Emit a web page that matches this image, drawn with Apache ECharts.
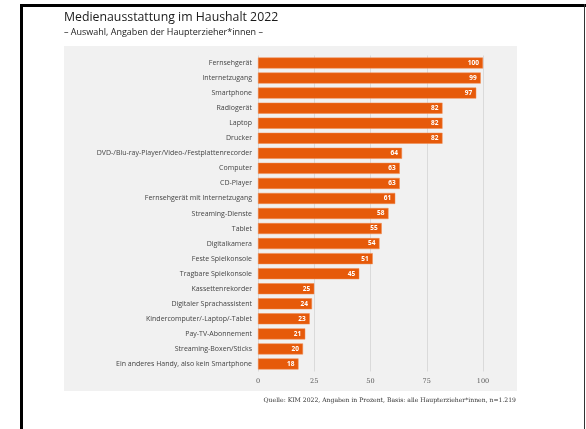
<!DOCTYPE html>
<html>
<head>
<meta charset="utf-8">
<script src="https://cdn.jsdelivr.net/npm/echarts@6/dist/echarts.min.js"></script>
<style>
  html, body { margin: 0; padding: 0; background: #ffffff; }
  #chart { width: 586px; height: 429px; }
</style>
</head>
<body>
<div id="chart"></div>
<script>
// Media equipment in households 2022 (share of households, percent)
const categories = [
  "Fernsehgerät",
  "Internetzugang",
  "Smartphone",
  "Radiogerät",
  "Laptop",
  "Drucker",
  "DVD-/Blu-ray-Player/Video-/Festplattenrecorder",
  "Computer",
  "CD-Player",
  "Fernsehgerät mit Internetzugang",
  "Streaming-Dienste",
  "Tablet",
  "Digitalkamera",
  "Feste Spielkonsole",
  "Tragbare Spielkonsole",
  "Kassettenrekorder",
  "Digitaler Sprachassistent",
  "Kindercomputer/-Laptop/-Tablet",
  "Pay-TV-Abonnement",
  "Streaming-Boxen/Sticks",
  "Ein anderes Handy, also kein Smartphone"
];
const values = [100, 99, 97, 82, 82, 82, 64, 63, 63, 61, 58, 55, 54, 51, 45, 25, 24, 23, 21, 20, 18];
const xTicks = [0, 25, 50, 75, 100];

const titleText = "Medienausstattung im Haushalt 2022";
const subtitleText = "– Auswahl, Angaben der Haupterzieher*innen –";
const sourceText = "Quelle: KIM 2022, Angaben in Prozent, Basis: alle Haupterzieher*innen, n=1.219";

const chart = echarts.init(document.getElementById('chart'), null, { renderer: 'canvas' });

const sans = '"Open Sans", "Noto Sans", sans-serif';

chart.setOption({
  backgroundColor: '#ffffff',
  animation: false,
  graphic: [
    // grey panel behind the plot
    { type: 'rect', z: -10, shape: { x: 64, y: 46, width: 453, height: 345 }, style: { fill: '#f1f1f1' } },
    // frame lines
    { type: 'rect', z: 10, shape: { x: 20, y: 4, width: 566, height: 3 }, style: { fill: '#000000' } },
    { type: 'rect', z: 10, shape: { x: 20, y: 4, width: 3, height: 425 }, style: { fill: '#000000' } },
    { type: 'rect', z: 10, shape: { x: 584, y: 4, width: 1, height: 425 }, style: { fill: '#333333' } },
    // titles
    { type: 'text', left: 64, top: 11, style: { text: titleText, fill: '#1a1a1a', font: '500 12.3px ' + sans } },
    { type: 'text', left: 64, top: 28, style: { text: subtitleText, fill: '#1a1a1a', font: '9px ' + sans } },
    // source note
    { type: 'text', right: 70, top: 397, style: { text: sourceText, fill: '#333333', font: '6.1px "DejaVu Serif", "Liberation Serif", serif', textAlign: 'right' } }
  ],
  grid: { left: 258, right: 103, top: 55.5, bottom: 57.5, containLabel: false },
  xAxis: {
    type: 'value',
    min: xTicks[0],
    max: xTicks[xTicks.length - 1],
    interval: 25,
    axisLine: { show: false },
    axisTick: { show: false },
    axisLabel: { color: '#555555', fontSize: 6.5, fontFamily: '"DejaVu Serif", serif', margin: 6 },
    splitLine: { show: true, lineStyle: { color: '#dadada', width: 1 } }
  },
  yAxis: {
    type: 'category',
    data: categories,
    inverse: true,
    axisLine: { show: false },
    axisTick: { show: false },
    axisLabel: { color: '#444444', fontSize: 7, fontFamily: sans, margin: 6 }
  },
  series: [{
    type: 'bar',
    data: values,
    barWidth: 11,
    itemStyle: { color: '#e65a0a', borderColor: '#f08a50', borderWidth: 0.5 },
    label: {
      show: true,
      position: 'insideRight',
      color: '#ffffff',
      fontSize: 6.5,
      fontWeight: 'bold',
      fontFamily: sans,
      distance: 4
    }
  }]
});
</script>
</body>
</html>
